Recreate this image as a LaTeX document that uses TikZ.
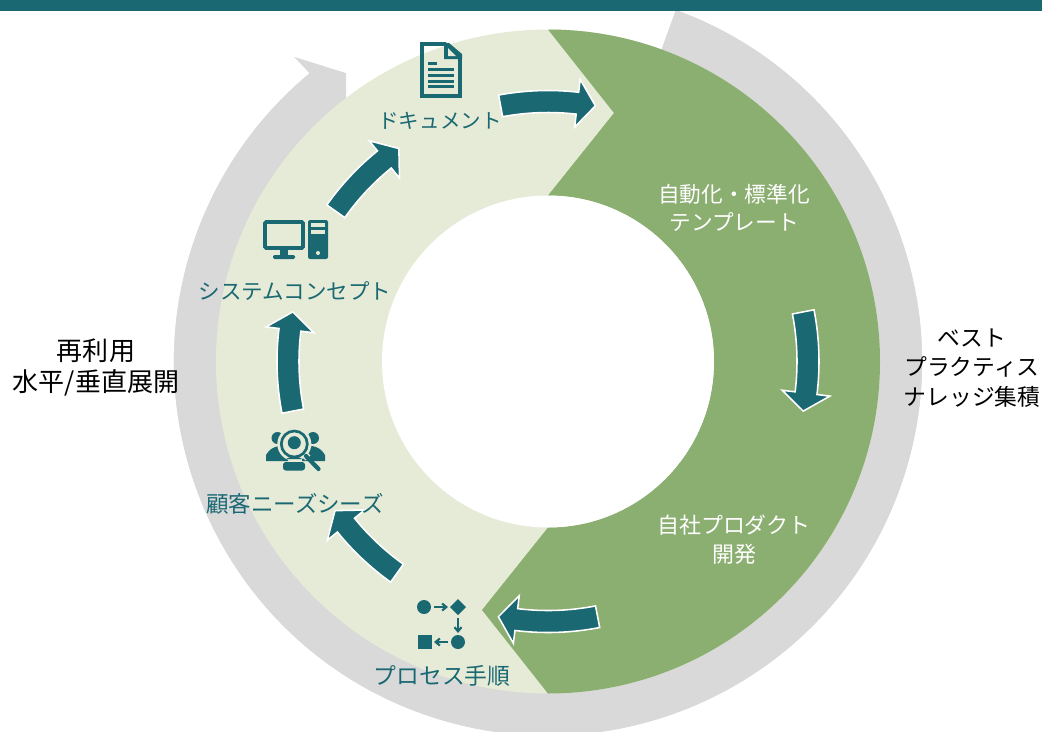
\documentclass[tikz,border=0pt]{standalone}
\usepackage{fontspec}
\setmainfont{Noto Sans CJK JP}
\usetikzlibrary{positioning, arrows.meta}

\definecolor{barteal}{HTML}{1A6872}
\definecolor{ringgreen}{HTML}{8BAE71}
\definecolor{ringlight}{HTML}{E6EBD7}
\definecolor{ringgray}{HTML}{D9D9D9}

\tikzset{
  flowarrow/.style={fill=barteal, draw=white, line width=1.1pt, line join=miter},
  steplabel/.style={text=barteal, align=center, inner sep=0pt},
  darklabel/.style={text=white, align=center, inner sep=0pt},
  sidelabel/.style={text=black, align=center, inner sep=0pt},
  iconline/.style={draw=barteal, line width=2.7pt},
  iconthin/.style={draw=barteal, line width=1.5pt, -{Straight Barb[length=3pt,width=5pt]}}
}

\begin{document}
\begin{tikzpicture}[x=0.025cm, y=0.025cm]
\path [use as bounding box, clip] (0,0) rectangle (1042,-732);

% rings
\coordinate (O) at (548,-361.5);
\begin{scope}[shift={(O)}]
\fill [ringgray] (70:374) arc [start angle=70, end angle=-230.4, radius=374]
  -- (129.8:396.5) -- (125:352) -- (-202,261.5) -- (130:320)
  arc [start angle=130, end angle=70, radius=320] -- cycle;
\fill [ringgray] (70:374) arc [start angle=70, end angle=-230.4, radius=374]
  -- (130:320) arc [start angle=-230, end angle=70, radius=320] -- cycle;
\fill [ringlight] (0,0) circle (332);
\fill [ringgreen] (90:332) -- (66,248.5) -- (0,166) arc [start angle=90, end angle=-90, radius=166]
  -- (-66,-248.5) -- (0,-332) arc [start angle=-90, end angle=90, radius=332] -- cycle;
\fill [white] (0,0) circle (166);

% arrows
\foreach \a/\b/\c in {100.5/83.5/79.5, 11/-7/-11, -79/-97/-101, 234.5/219/215, 191/173/169, 144.7/129/125}
  \draw [flowarrow] (\a:271) arc [start angle=\a, end angle=\b, radius=271]
    -- (\b:284) -- (\c:260) -- (\b:236) -- (\b:249)
    arc [start angle=\b, end angle=\a, radius=249] -- cycle;
\end{scope}

% top bar
\fill [barteal] (0,0) rectangle (1042,-11);

% document icon
\draw [iconline, line join=miter] (422,-44) -- (445,-44) -- (460,-56) -- (460,-96) -- (422,-96) -- cycle;
\fill [barteal] (444,-43) -- (449,-43) -- (462,-54) -- (462,-59) -- (444,-59) -- cycle;
\fill [ringlight] (448,-48) -- (456,-56) -- (448,-56) -- cycle;
\fill [barteal] (428,-62) rectangle (437,-64.5);
\foreach \y in {68,74,79.5,85}
  \fill [barteal] (428,-\y) rectangle (454,-\y-3);

% computer icon
\draw [iconline, rounded corners=1pt] (265,-222) rectangle (303,-248);
\fill [barteal] (280,-250) rectangle (288,-256);
\fill [barteal, rounded corners=1pt] (273,-255) rectangle (295,-259);
\fill [barteal, rounded corners=1.5pt] (308,-220) rectangle (328,-259);
\fill [ringlight] (311,-223) rectangle (325,-227);
\fill [ringlight] (311,-230) rectangle (325,-234);
\fill [ringlight] (318,-253) circle (2);

% customer icon
\fill [barteal] (277.5,-438) circle (6);
\fill [barteal] (313,-438) circle (6);
\fill [barteal] (266,-461) -- (266,-455) to [bend left=25] (279,-446) -- (288,-450) -- (288,-461) -- cycle;
\fill [barteal] (325,-461) -- (325,-455) to [bend right=25] (312,-446) -- (302,-450) -- (302,-461) -- cycle;
\fill [barteal, rounded corners=2pt] (283,-470.5) -- (283,-462) -- (305,-462) -- (305,-470.5) -- cycle;
\fill [ringlight] (294.3,-444) circle (17);
\draw [barteal, line width=1.9pt] (294.3,-444) circle (13);
\fill [barteal] (294.3,-442.7) circle (6.5);
\fill [barteal] (286,-459) to [bend left=30] (302.5,-459) -- cycle;
\draw [ringlight, line width=5pt] (305,-455) -- (308,-458);
\draw [barteal, line width=3pt, line cap=round] (306,-456) -- (318.5,-469);

% process icon
\fill [barteal] (424,-607) circle (7);
\fill [barteal] (458,-599) -- (466,-607) -- (458,-615) -- (450,-607) -- cycle;
\fill [barteal] (458,-642) circle (7);
\fill [barteal] (418,-635) rectangle (432,-649);
\draw [iconthin] (434,-607) -- (448,-607);
\draw [iconthin] (458,-618) -- (458,-633);
\draw [iconthin] (448,-642) -- (434,-642);

% nodes
\node [steplabel, font=\fontsize{14.6}{20}\selectfont] (doc) at (440,-121) {ドキュメント};
\node [steplabel, font=\fontsize{15.3}{20}\selectfont] (sys) at (295,-291.5) {システムコンセプト};
\node [steplabel, font=\fontsize{16}{20}\selectfont] (need) at (295,-503.5) {顧客ニーズシーズ};
\node [steplabel, font=\fontsize{16.2}{20}\selectfont] (proc) at (442,-675.5) {プロセス手順};
\node [darklabel, font=\fontsize{15.4}{20}\selectfont] (auto) at (734,-208) {自動化・標準化\\テンプレート};
\node [darklabel, font=\fontsize{15.6}{20.5}\selectfont] (own) at (734,-540) {自社プロダクト\\開発};
\node [sidelabel, font=\fontsize{16.2}{21}\selectfont] (best) at (972,-368) {ベスト\\プラクティス\\ナレッジ集積};
\node [sidelabel, font=\fontsize{18.5}{22.5}\selectfont] (reuse) at (96,-367.5) {再利用\\水平/垂直展開};
\end{tikzpicture}
\end{document}
